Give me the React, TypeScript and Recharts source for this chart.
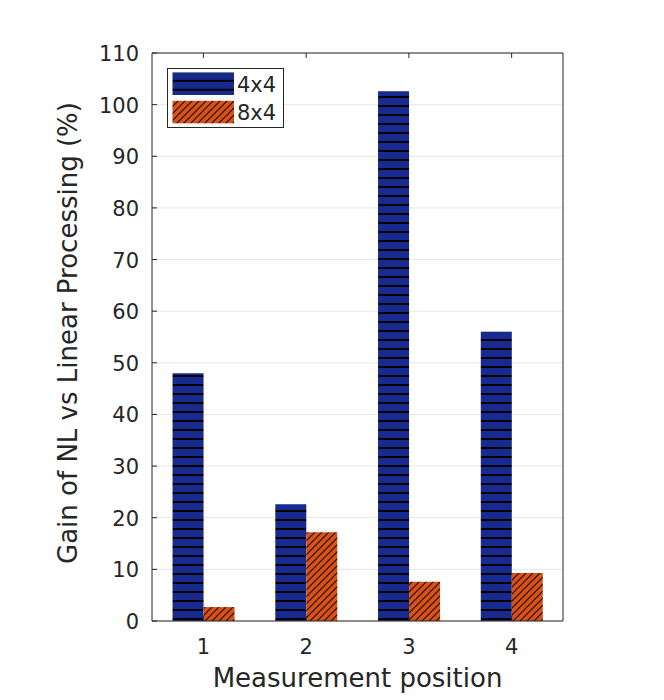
import React from "react";
import { BarChart, Bar, XAxis, YAxis, CartesianGrid, Legend, Label } from "recharts";

const positions = ["1", "2", "3", "4"];
const gain4x4 = [48, 22.6, 102.6, 56];
const gain8x4 = [2.7, 17.2, 7.6, 9.3];
const yTicks = [0, 10, 20, 30, 40, 50, 60, 70, 80, 90, 100, 110];

const data = positions.map((p, i) => ({ pos: p, a: gain4x4[i], b: gain8x4[i] }));

const BLUE = "#162a8f";
const ORANGE = "#d95319";
const INK = "#262626";
const FONT = "'DejaVu Sans', sans-serif";

// matlab style: ticks point inwards on all four sides
const LeftTick = (props: any) => {
  const { x, y, payload } = props;
  return (
    <g>
      <line x1={x} y1={y} x2={x + 5} y2={y} stroke={INK} />
      <text x={x - 13} y={y + 8} textAnchor="end" fontSize={21} fill={INK} fontFamily={FONT}>
        {payload.value}
      </text>
    </g>
  );
};

const RightTick = (props: any) => {
  const { x, y } = props;
  return <line x1={x - 5} y1={y} x2={x} y2={y} stroke={INK} />;
};

const BottomTick = (props: any) => {
  const { x, y, payload } = props;
  return (
    <g>
      <line x1={x} y1={y - 5} x2={x} y2={y} stroke={INK} />
      <text x={x} y={y + 33} textAnchor="middle" fontSize={21} fill={INK} fontFamily={FONT}>
        {payload.value}
      </text>
    </g>
  );
};

const TopTick = (props: any) => {
  const { x, y } = props;
  return <line x1={x} y1={y} x2={x} y2={y + 5} stroke={INK} />;
};

const XLabel = ({ viewBox }: any) => (
  <text
    x={viewBox.x + viewBox.width / 2}
    y={viewBox.y + 66}
    textAnchor="middle"
    fontSize={26}
    fill={INK}
    fontFamily={FONT}
  >
    Measurement position
  </text>
);

const YLabel = ({ viewBox }: any) => {
  const x = viewBox.x + 77;
  const y = viewBox.y + viewBox.height / 2 - 4;
  return (
    <text x={x} y={y} transform={`rotate(-90, ${x}, ${y})`} textAnchor="middle" fontSize={26} fill={INK} fontFamily={FONT}>
      Gain of NL vs Linear Processing (%)
    </text>
  );
};

const LegendBox = (props: any) => {
  const items = props.payload || [];
  const fills = ["url(#lgBlue)", "url(#lgOrange)"];
  return (
    <div style={{ width: 115, height: 58, border: `1px solid ${INK}`, background: "#fff" }}>
      <svg width={115} height={58} style={{ display: "block" }}>
        <defs>
          <pattern id="lgBlue" patternUnits="userSpaceOnUse" width={10} height={9}>
            <rect width={10} height={9} fill={BLUE} />
            <rect y={1.8} width={10} height={2} fill="#000" />
          </pattern>
          <pattern id="lgOrange" patternUnits="userSpaceOnUse" width={7} height={7}>
            <rect width={7} height={7} fill={ORANGE} />
            <path d="M-1,1 L1,-1 M0,7 L7,0 M6,8 L8,6" stroke="#1a0800" strokeWidth={1.1} />
          </pattern>
        </defs>
        {items.map((it: any, i: number) => (
          <g key={it.value}>
            <rect x={4.5} y={3.5 + i * 28.3} width={61.5} height={22.5} fill={fills[i]} />
            <text x={69} y={22.5 + i * 28.3} fontSize={21} fill={INK} fontFamily={FONT}>
              {it.value}
            </text>
          </g>
        ))}
      </svg>
    </div>
  );
};

export default function App() {
  return (
    <div style={{ position: "absolute", left: 0, top: 0, background: "#fff" }}>
      <BarChart
        width={664}
        height={700}
        data={data}
        margin={{ top: 52, right: 100, bottom: 0, left: 0 }}
        barCategoryGap="20%"
        barGap={0}
      >
        <defs>
          <pattern id="stripeBlue" patternUnits="userSpaceOnUse" width={10} height={9}>
            <rect width={10} height={9} fill={BLUE} />
            <rect y={6} width={10} height={2} fill="#000" />
          </pattern>
          <pattern id="hatchOrange" patternUnits="userSpaceOnUse" width={7} height={7}>
            <rect width={7} height={7} fill={ORANGE} />
            <path d="M-1,1 L1,-1 M0,7 L7,0 M6,8 L8,6" stroke="#1a0800" strokeWidth={1.1} />
          </pattern>
        </defs>
        <CartesianGrid vertical={false} stroke="#e6e6e6" />
        <XAxis
          dataKey="pos"
          height={79}
          axisLine={{ stroke: INK }}
          tickLine={false}
          tickSize={0}
          tickMargin={0}
          tick={<BottomTick />}
          label={<Label content={<XLabel />} />}
        />
        <XAxis
          xAxisId="top"
          dataKey="pos"
          orientation="top"
          height={1}
          axisLine={{ stroke: INK }}
          tickLine={false}
          tickSize={0}
          tickMargin={0}
          tick={<TopTick />}
        />
        <YAxis
          width={152}
          domain={[0, 110]}
          ticks={yTicks}
          interval={0}
          axisLine={{ stroke: INK }}
          tickLine={false}
          tickSize={0}
          tickMargin={0}
          tick={<LeftTick />}
          label={<Label content={<YLabel />} />}
        />
        <YAxis
          yAxisId="right"
          orientation="right"
          width={1}
          domain={[0, 110]}
          ticks={yTicks}
          interval={0}
          axisLine={{ stroke: INK }}
          tickLine={false}
          tickSize={0}
          tickMargin={0}
          tick={<RightTick />}
        />
        <Legend
          layout="vertical"
          align="center"
          verticalAlign="middle"
          wrapperStyle={{ left: 167, top: 68, width: 117, height: 60 }}
          content={<LegendBox />}
        />
        <Bar dataKey="a" name="4x4" fill="url(#stripeBlue)" isAnimationActive={false} />
        <Bar dataKey="b" name="8x4" fill="url(#hatchOrange)" isAnimationActive={false} />
      </BarChart>
    </div>
  );
}
